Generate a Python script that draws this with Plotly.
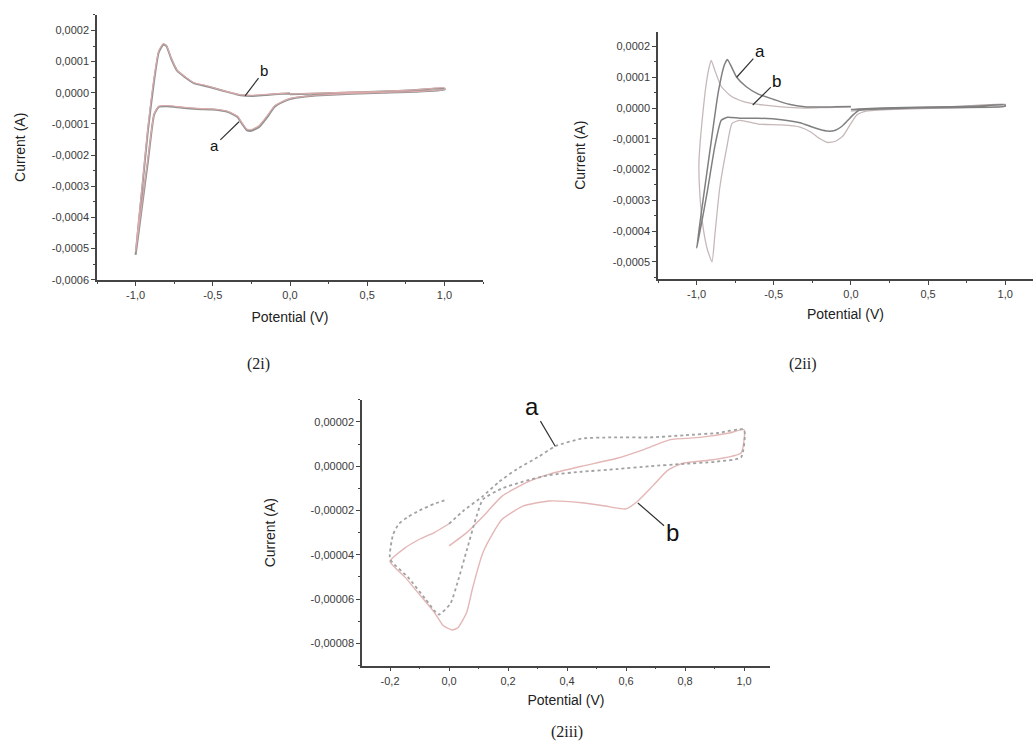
import plotly.graph_objects as go

# ---------------- data: panel (2i) ----------------
v_2i_a = [0.0, 0.2, 0.4, 0.6, 0.8, 1.0,
          1.0, 0.8, 0.6, 0.4, 0.2, 0.1, 0.0, -0.05, -0.1, -0.15, -0.2, -0.25, -0.28, -0.31, -0.34,
          -0.4, -0.5, -0.6, -0.7, -0.8, -0.85, -0.88, -0.92, -0.96, -1.0,
          -0.96, -0.92, -0.88, -0.85, -0.82, -0.80, -0.77, -0.73, -0.68, -0.62, -0.55, -0.48,
          -0.4, -0.32, -0.25, -0.15, -0.05, 0.0]
i_2i_a = [-0.000005, -0.000002, 0.000001, 0.000004, 0.000008, 0.000014,
          0.000010, 0.000003, 0.0, -0.000003, -0.000008, -0.000012, -0.00002, -0.00003, -0.000045,
          -0.00008, -0.00011, -0.000122, -0.00012, -0.0001, -0.000078,
          -0.000062, -0.000054, -0.000052, -0.000048, -0.000043, -0.000045, -0.00007, -0.00022,
          -0.00037, -0.00052,
          -0.00032, -0.00012, 0.00004, 0.00013, 0.000155, 0.00015, 0.00011, 0.00007, 0.00005,
          0.00003, 0.000022, 0.000013, 0.000002, -0.000008, -0.00001, -0.000007, -0.000003, -0.000002]

v_2i_b = [0.0, 0.2, 0.4, 0.6, 0.8, 1.0,
          1.0, 0.8, 0.6, 0.4, 0.2, 0.1, 0.0, -0.05, -0.1, -0.15, -0.2, -0.25, -0.28, -0.31, -0.34,
          -0.4, -0.5, -0.6, -0.7, -0.8, -0.85, -0.88, -0.92, -0.96, -1.0,
          -0.96, -0.92, -0.88, -0.85, -0.82, -0.80, -0.77, -0.73, -0.68, -0.62, -0.55, -0.48,
          -0.4, -0.32, -0.25, -0.15, -0.05, 0.0]
i_2i_b = [-0.000004, -0.000001, 0.000002, 0.000005, 0.000009, 0.000016,
          0.000011, 0.000004, 0.000001, -0.000002, -0.000007, -0.000011, -0.000018, -0.000028,
          -0.000042, -0.000075, -0.000105, -0.000118, -0.000116, -0.000097, -0.000075,
          -0.00006, -0.000052, -0.00005, -0.000046, -0.000041, -0.000043, -0.000068, -0.00021,
          -0.00036, -0.00051,
          -0.00031, -0.00011, 0.00005, 0.000135, 0.000158, 0.000152, 0.000112, 0.000072, 0.000052,
          0.000032, 0.000024, 0.000014, 0.000003, -0.000006, -0.000008, -0.000005, -0.000002, 0.0]

# ---------------- data: panel (2ii) ----------------
v_2ii_a = [0.0, 0.05, 0.2, 0.5, 0.8, 1.0,
           1.0, 0.7, 0.4, 0.2, 0.05, 0.02, -0.02, -0.06, -0.1, -0.15, -0.2, -0.26, -0.33, -0.45,
           -0.6, -0.72, -0.8, -0.84, -0.88, -0.93, -0.97, -1.0,
           -0.95, -0.9, -0.86, -0.82, -0.80, -0.78, -0.74, -0.68, -0.6, -0.5, -0.4, -0.3, -0.2,
           -0.1, 0.0]
i_2ii_a = [-0.000005, -0.000003, 0.0, 0.000003, 0.000006, 0.00001,
           0.000006, 0.000002, 0.0, -0.000003, -0.000008, -0.00002, -0.00004, -0.00006, -0.000072,
           -0.000075, -0.00007, -0.00006, -0.000048, -0.000038,
           -0.000033, -0.000033, -0.00003, -0.00004, -0.00012, -0.00027, -0.00038, -0.000455,
           -0.00027, -0.00009, 0.00005, 0.00014, 0.000158, 0.00014, 0.0001, 0.00007, 0.000045,
           0.000028, 0.000012, 0.000004, 0.000003, 0.000004, 0.000005]

v_2ii_b = [0.0, 0.1, 0.4, 0.7, 1.0,
           1.0, 0.6, 0.3, 0.1, 0.04, 0.0, -0.05, -0.1, -0.15, -0.2, -0.26, -0.33, -0.45, -0.6,
           -0.72, -0.77, -0.805, -0.85, -0.883, -0.9,
           -0.93, -0.96, -0.98, -0.985, -0.975, -0.96, -0.94, -0.92, -0.905, -0.88, -0.84, -0.78,
           -0.7, -0.6, -0.5, -0.4, -0.3, -0.2, -0.1, 0.0]
i_2ii_b = [-0.00001, -0.000004, 0.0, 0.000005, 0.000012,
           0.000006, 0.0, -0.000004, -0.00001, -0.000022, -0.00005, -0.00009, -0.000108, -0.000112,
           -0.0001, -0.000078, -0.000062, -0.000055, -0.000052,
           -0.00004, -0.00005, -0.00013, -0.00026, -0.00042, -0.0005,
           -0.00046, -0.00038, -0.00027, -0.00018, -0.0001, -0.00002, 0.00007, 0.00013, 0.000155,
           0.00012, 0.00007, 0.00004,
           0.000022, 0.000012, 0.000006, 0.000002, 0.0, 0.000001, 0.000002, 0.000003]

# ---------------- data: panel (2iii) ----------------
v_2iii_a = [0.0, 0.05, 0.115, 0.17, 0.23, 0.3, 0.36, 0.45, 0.55, 0.68, 0.8, 0.91, 1.0,
            0.99, 0.9, 0.79, 0.68, 0.57, 0.45, 0.34, 0.25, 0.18, 0.115, 0.09, 0.06, 0.03, 0.005,
            -0.035, -0.08, -0.14, -0.2,
            -0.19, -0.17, -0.14, -0.1, -0.05, -0.005]
i_2iii_a = [-0.000026, -0.00002, -0.0000135, -0.000007, -0.0000013, 0.000004, 0.000009,
            0.0000125, 0.000013, 0.000013, 0.000014, 0.000015, 0.0000165,
            0.000004, 0.000002, 0.000001, 0.0, -0.0000013, -0.0000025, -0.000004, -0.000007,
            -0.00001, -0.000015, -0.000024, -0.000038, -0.000052, -0.000062,
            -0.000067, -0.00006, -0.00005, -0.000042,
            -0.000031, -0.000026, -0.000023, -0.00002, -0.000017, -0.000015]

v_2iii_b = [0.0, 0.06, 0.12, 0.18, 0.26, 0.34, 0.45, 0.57, 0.66, 0.75, 0.85, 0.95, 1.0,
            0.99, 0.9, 0.79, 0.74, 0.69, 0.64, 0.6, 0.53, 0.45, 0.34, 0.25, 0.18, 0.15, 0.115,
            0.08, 0.06, 0.03, 0.01, -0.02, -0.05, -0.1, -0.15, -0.2,
            -0.15, -0.1, -0.05, 0.0]
i_2iii_b = [-0.000036, -0.00003, -0.000022, -0.0000135, -0.0000075, -0.0000036, 0.0,
            0.0000036, 0.0000075, 0.000012, 0.000013, 0.000015, 0.0000165,
            0.000006, 0.000003, 0.0000013, -0.000002, -0.000009, -0.0000157, -0.0000193,
            -0.000018, -0.0000165, -0.0000157, -0.000018, -0.000024, -0.00003, -0.000039,
            -0.000055, -0.000066, -0.000073, -0.000074, -0.000072, -0.000066, -0.000058,
            -0.00005, -0.000043,
            -0.000037, -0.000033, -0.00003, -0.000026]

# ---------------- tick labels ----------------
x_ticks_wide = [-1.0, -0.5, 0.0, 0.5, 1.0]
x_text_wide = ["-1,0", "-0,5", "0,0", "0,5", "1,0"]
y_ticks_2i = [-0.0006, -0.0005, -0.0004, -0.0003, -0.0002, -0.0001, 0.0, 0.0001, 0.0002]
y_text_2i = ["-0,0006", "-0,0005", "-0,0004", "-0,0003", "-0,0002", "-0,0001", "0,0000",
             "0,0001", "0,0002"]
y_ticks_2ii = [-0.0005, -0.0004, -0.0003, -0.0002, -0.0001, 0.0, 0.0001, 0.0002]
y_text_2ii = ["-0,0005", "-0,0004", "-0,0003", "-0,0002", "-0,0001", "0,0000", "0,0001", "0,0002"]
x_ticks_2iii = [-0.2, 0.0, 0.2, 0.4, 0.6, 0.8, 1.0]
x_text_2iii = ["-0,2", "0,0", "0,2", "0,4", "0,6", "0,8", "1,0"]
y_ticks_2iii = [-0.00008, -0.00006, -0.00004, -0.00002, 0.0, 0.00002]
y_text_2iii = ["-0,00008", "-0,00006", "-0,00004", "-0,00002", "0,00000", "0,00002"]

W, H = 1033, 753
AX_COL = "#444444"
SANS = "Liberation Sans, Arial, sans-serif"
TICK_FONT = dict(family=SANS, size=11, color="#3a3a3a")
TITLE_FONT = dict(family=SANS, size=14, color="#222222")

fig = go.Figure()

def line(x, y, color, width, xa, ya, dash="solid"):
    fig.add_trace(go.Scatter(x=x, y=y, mode="lines", xaxis=xa, yaxis=ya,
                             line=dict(color=color, width=width, dash=dash,
                                       shape="spline", smoothing=0.5),
                             showlegend=False, hoverinfo="skip"))

line(v_2i_a, i_2i_a, "#929292", 2.0, "x", "y")
line(v_2i_b, i_2i_b, "#dcaaaa", 1.1, "x", "y")
line(v_2ii_b, i_2ii_b, "#c6b8b8", 1.3, "x2", "y2")
line(v_2ii_a, i_2ii_a, "#808080", 1.5, "x2", "y2")
line(v_2iii_b, i_2iii_b, "#e4b6b6", 1.4, "x3", "y3")
line(v_2iii_a, i_2iii_a, "#a2a2a2", 1.8, "x3", "y3", dash="dot")

def px(a, b):
    return [a / W, b / W]

def py(top, bottom):
    return [1 - bottom / H, 1 - top / H]

def axis(dom, rng, vals, text, anchor, minor_dt, standoff, title):
    return dict(domain=dom, range=rng, anchor=anchor, tickmode="array", tickvals=vals,
                ticktext=text, ticks="outside", ticklen=4, tickwidth=1, tickcolor=AX_COL,
                showline=True, linecolor=AX_COL, linewidth=1.5, showgrid=False,
                zeroline=False, tickfont=TICK_FONT,
                minor=dict(tickmode="linear", tick0=0, dtick=minor_dt, ticklen=2,
                           tickcolor=AX_COL, showgrid=False),
                title=dict(text=title, font=TITLE_FONT, standoff=standoff))

PV, CA = "Potential (V)", "Current (A)"
fig.update_layout(
    width=W, height=H, margin=dict(l=0, r=0, t=0, b=0),
    paper_bgcolor="white", plot_bgcolor="white",
    xaxis=axis(px(97, 483), [-1.25, 1.25], x_ticks_wide, x_text_wide, "y", 0.25, 12, PV),
    yaxis=axis(py(15, 282), [-0.0006, 0.00025], y_ticks_2i, y_text_2i, "x", 0.00005, 23, CA),
    xaxis2=axis(px(658, 1033), [-1.25, 1.18], x_ticks_wide, x_text_wide, "y2", 0.25, 10, PV),
    yaxis2=axis(py(32, 281), [-0.000555, 0.000248], y_ticks_2ii, y_text_2ii, "x2", 0.00005, 24, CA),
    xaxis3=axis(px(362, 770), [-0.295, 1.088], x_ticks_2iii, x_text_2iii, "y3", 0.1, 10, PV),
    yaxis3=axis(py(403, 671), [-0.0000901, 0.00003], y_ticks_2iii, y_text_2iii, "x3", 0.00001, 32, CA),
)

def label(text, xa, ya, x, y, ax, ay, size):
    fig.add_annotation(text=text, xref=xa, yref=ya, x=x, y=y, axref=xa, ayref=ya, ax=ax, ay=ay,
                       showarrow=True, arrowhead=0, arrowwidth=1.2, arrowcolor="#333333",
                       font=dict(family=SANS, size=size, color="#111111"))

label("a", "x", "y", -0.33, -0.000093, -0.49, -0.00017, 15)
label("b", "x", "y", -0.291, -0.0000096, -0.168, 0.0000705, 15)
label("a", "x2", "y2", -0.74, 0.0001, -0.59, 0.000184, 17)
label("b", "x2", "y2", -0.636, 0.00001, -0.48, 0.000087, 17)
label("a", "x3", "y3", 0.36, 0.000009, 0.281, 0.0000269, 24)
label("b", "x3", "y3", 0.64, -0.0000166, 0.756, -0.00003, 24)

CAP_FONT = dict(family="Liberation Serif, DejaVu Serif, serif", size=16, color="#222222")
for txt, cx, cy in [("(2i)", 258, 367), ("(2ii)", 803, 367), ("(2iii)", 567, 738)]:
    fig.add_annotation(text=txt, xref="paper", yref="paper", x=cx / W, y=1 - cy / H,
                       showarrow=False, font=CAP_FONT, xanchor="center", yanchor="middle")

fig.write_html("out.html")
